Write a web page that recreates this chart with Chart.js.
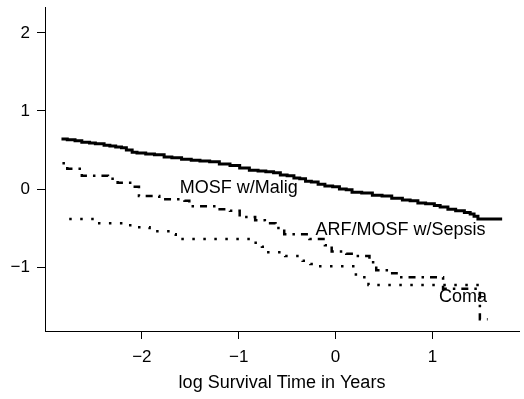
<!DOCTYPE html>
<html><head><meta charset="utf-8">
<script src="https://cdn.jsdelivr.net/npm/chart.js@4/dist/chart.umd.min.js"></script>
<style>html,body{margin:0;padding:0;background:#fff;} #wrap{width:524px;height:399px;position:relative;}</style>
</head><body><div id="wrap"><canvas id="c"></canvas></div>
<script>
// Data (log survival time in years vs. value), step curves
const maligX = [-2.83,-2.77,-2.69,-2.62,-2.54,-2.48,-2.39,-2.33,-2.27,-2.21,-2.16,-2.10,-2.05,-1.96,-1.87,-1.77,-1.69,-1.59,-1.49,-1.40,-1.30,-1.20,-1.09,-0.99,-0.89,-0.80,-0.72,-0.64,-0.57,-0.50,-0.43,-0.37,-0.31,-0.25,-0.18,-0.11,-0.03,0.04,0.11,0.17,0.27,0.38,0.48,0.58,0.69,0.77,0.85,0.93,1.02,1.08,1.16,1.24,1.33,1.39,1.43,1.47,1.72];
const maligY = [0.64,0.63,0.62,0.60,0.59,0.58,0.56,0.55,0.54,0.53,0.50,0.47,0.46,0.45,0.44,0.41,0.40,0.38,0.37,0.36,0.35,0.32,0.30,0.27,0.24,0.23,0.22,0.21,0.18,0.17,0.14,0.13,0.10,0.09,0.06,0.04,0.03,0.00,-0.01,-0.04,-0.05,-0.08,-0.09,-0.12,-0.14,-0.15,-0.18,-0.19,-0.21,-0.23,-0.26,-0.28,-0.30,-0.32,-0.35,-0.385,-0.385];
const sepsisX = [-2.82,-2.77,-2.62,-2.35,-2.25,-2.10,-2.03,-1.82,-1.56,-1.51,-1.22,-1.09,-0.99,-0.83,-0.73,-0.62,-0.53,-0.27,-0.11,-0.04,0.11,0.21,0.35,0.42,0.56,0.63,1.11,1.49,1.57];
const sepsisY = [0.33,0.26,0.17,0.13,0.08,0.03,-0.09,-0.13,-0.15,-0.22,-0.26,-0.28,-0.36,-0.40,-0.44,-0.50,-0.58,-0.64,-0.72,-0.80,-0.83,-0.86,-0.94,-1.04,-1.08,-1.13,-1.28,-1.67,-1.67];
const comaX = [-2.75,-2.44,-2.12,-1.92,-1.71,-1.65,-0.87,-0.76,-0.71,-0.52,-0.34,-0.26,-0.18,0.21,0.34,1.56];
const comaY = [-0.385,-0.44,-0.49,-0.54,-0.58,-0.64,-0.69,-0.74,-0.81,-0.86,-0.92,-0.96,-0.99,-1.13,-1.23,-1.23];
const seriesNames = ['MOSF w/Malig','ARF/MOSF w/Sepsis','Coma'];
const xTicks = [-2,-1,0,1];
const yTicks = [-1,0,1,2];
const xTitle = 'log Survival Time in Years';
// label anchor points (data units)
const labelAtX = [-1.0, 0.67, 1.315];
const labelAtY = [-0.05, -0.59, -1.45];

const FONT = 'Liberation Sans, Arial, sans-serif';
const toPts = (xs, ys) => xs.map((x, i) => ({x, y: ys[i]}));
const fmt = v => v < 0 ? '\u2212' + Math.abs(v) : String(v);

const labelPlugin = {
  id: 'curveLabels',
  afterDatasetsDraw(chart) {
    const {ctx, scales: {x, y}} = chart;
    ctx.save();
    ctx.fillStyle = '#000';
    ctx.font = '18px ' + FONT;
    ctx.textAlign = 'center';
    ctx.textBaseline = 'alphabetic';
    seriesNames.forEach((n, i) => {
      ctx.fillText(n, x.getPixelForValue(labelAtX[i]), y.getPixelForValue(labelAtY[i]));
    });
    ctx.restore();
  }
};

const common = {pointRadius: 0, fill: false, stepped: true, borderColor: '#000', borderCapStyle: 'butt', borderJoinStyle: 'miter'};

new Chart(document.getElementById('c'), {
  type: 'line',
  data: {
    datasets: [
      {...common, label: seriesNames[0], data: toPts(maligX, maligY), borderWidth: 3},
      {...common, label: seriesNames[1], data: toPts(sepsisX, sepsisY), borderWidth: 2.5, borderDash: [2.5, 6, 7, 6]},
      {...common, label: seriesNames[2], data: toPts(comaX, comaY), borderWidth: 2.5, borderDash: [2.5, 8.5]}
    ]
  },
  options: {
    responsive: true, maintainAspectRatio: false, animation: false, devicePixelRatio: 1,
    layout: {padding: {top: 7, right: 5, left: 0, bottom: 0}},
    plugins: {legend: {display: false}, tooltip: {enabled: false}},
    scales: {
      x: {
        type: 'linear', min: -3.0, max: 1.894,
        afterBuildTicks: s => { s.ticks = xTicks.map(v => ({value: v})); },
        afterFit: s => { s.height = 68; s.paddingLeft = 0; s.paddingRight = 0; },
        grid: {drawOnChartArea: false, drawTicks: true, tickLength: 8, color: '#000', lineWidth: 1},
        border: {display: true, color: '#000', width: 1},
        ticks: {color: '#000', font: {family: FONT, size: 17}, padding: 8, maxRotation: 0, callback: v => fmt(v)},
        title: {display: true, text: xTitle, color: '#000', font: {family: FONT, size: 18}, padding: {top: 0, bottom: 5}}
      },
      y: {
        type: 'linear', min: -1.82, max: 2.333,
        afterBuildTicks: s => { s.ticks = yTicks.map(v => ({value: v})); },
        afterFit: s => { s.width = 45; s.paddingTop = 0; s.paddingBottom = 0; },
        grid: {drawOnChartArea: false, drawTicks: true, tickLength: 8, color: '#000', lineWidth: 1},
        border: {display: true, color: '#000', width: 1},
        ticks: {color: '#000', font: {family: FONT, size: 17}, padding: 7, callback: v => fmt(v)}
      }
    }
  },
  plugins: [labelPlugin]
});
</script>
</body></html>
